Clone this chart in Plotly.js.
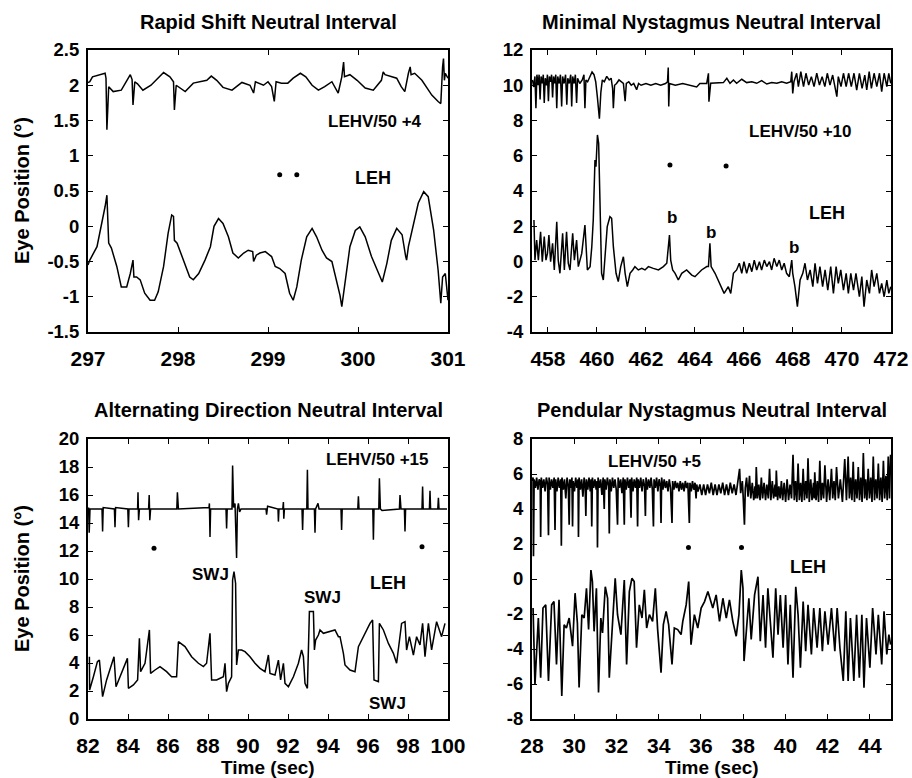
<!DOCTYPE html>
<html>
<head>
<meta charset="utf-8">
<script src="https://cdn.plot.ly/plotly-3.0.1.min.js"></script>
<style>
  html, body { margin: 0; padding: 0; background: #fff; }
  #chart { width: 912px; height: 778px; }
</style>
</head>
<body>
<div id="chart"></div>
<script>
// ---- Rapid Shift Neutral Interval ----
const rsTimeV = [297.00,297.02,297.05,297.12,297.19,297.20,297.21,297.23,297.28,297.37,297.47,297.49,297.50,297.52,297.55,297.61,297.70,297.84,297.91,297.95,297.96,297.98,298.08,298.17,298.24,298.32,298.37,298.43,298.50,298.60,298.71,298.80,298.84,298.86,298.95,299.00,299.04,299.07,299.09,299.15,299.22,299.28,299.36,299.42,299.49,299.56,299.63,299.71,299.78,299.82,299.84,299.85,299.91,299.99,300.08,300.17,300.26,300.28,300.30,300.37,300.43,300.48,300.52,300.56,300.58,300.59,300.63,300.71,300.82,300.89,300.92,300.94,300.95,300.96,300.97,301.00];
const rsLEHV = [2.04,2.05,2.12,2.14,2.17,2.10,1.37,1.98,1.91,1.93,2.15,2.08,1.72,2.05,2.02,1.93,2.00,2.18,2.12,2.05,1.65,2.00,1.91,2.03,2.05,2.07,2.13,2.07,1.97,1.93,2.04,2.00,1.89,2.05,2.00,2.05,1.98,1.77,2.05,2.03,2.03,2.10,2.17,2.12,2.00,1.93,1.98,2.05,1.89,2.12,2.33,2.12,2.15,2.07,1.96,1.93,2.07,2.19,2.15,2.12,2.10,1.98,1.91,2.17,2.26,2.15,2.17,2.07,1.86,1.77,1.74,2.26,2.38,2.07,2.17,2.10];
const rsTimeH = [297.00,297.02,297.10,297.15,297.19,297.21,297.22,297.23,297.26,297.32,297.37,297.43,297.47,297.50,297.51,297.54,297.58,297.63,297.69,297.74,297.78,297.84,297.89,297.93,297.95,297.96,297.99,298.02,298.08,298.13,298.17,298.23,298.30,298.36,298.40,298.45,298.50,298.56,298.61,298.67,298.73,298.78,298.83,298.84,298.87,298.91,298.97,299.04,299.08,299.13,299.19,299.24,299.28,299.32,299.37,299.43,299.49,299.54,299.60,299.65,299.71,299.76,299.80,299.82,299.86,299.91,299.97,300.02,300.08,300.15,300.23,300.27,300.32,300.37,300.43,300.49,300.53,300.54,300.56,300.61,300.67,300.73,300.78,300.84,300.89,300.92,300.94,300.97,300.99,301.00];
const rsLEH = [-0.55,-0.48,-0.29,0.00,0.28,0.44,0.15,-0.24,-0.31,-0.57,-0.86,-0.86,-0.67,-0.48,-0.72,-0.72,-0.76,-0.95,-1.05,-1.05,-0.93,-0.57,-0.10,0.16,0.14,-0.20,-0.24,-0.34,-0.53,-0.72,-0.76,-0.67,-0.48,-0.29,0.00,0.11,0.04,-0.15,-0.38,-0.45,-0.38,-0.34,-0.36,-0.50,-0.41,-0.38,-0.36,-0.43,-0.57,-0.60,-0.67,-0.95,-1.05,-0.86,-0.48,-0.15,-0.03,-0.15,-0.34,-0.45,-0.50,-0.76,-0.98,-1.14,-0.76,-0.29,-0.06,-0.01,-0.15,-0.43,-0.67,-0.79,-0.53,-0.20,-0.03,-0.12,-0.43,-0.48,-0.29,0.00,0.33,0.49,0.42,-0.05,-0.62,-1.09,-0.72,-0.67,-1.00,-1.05];
const rsDotTime = [299.13, 299.32];
const rsDotPos = [0.73, 0.73];

// ---- Minimal Nystagmus Neutral Interval ----
const mnTimeV = [457.37,457.42,457.47,457.51,457.55,457.60,457.64,457.68,457.72,457.77,457.81,457.85,457.89,457.94,457.98,458.02,458.06,458.11,458.15,458.19,458.23,458.28,458.32,458.36,458.40,458.46,458.51,458.56,458.60,458.66,458.72,458.77,458.81,458.87,458.93,458.97,459.01,459.07,459.12,459.17,459.21,459.30,459.40,459.47,459.51,459.55,459.62,459.72,459.80,459.88,459.95,460.02,460.10,460.16,460.22,460.30,460.40,460.50,460.58,460.64,460.67,460.72,460.80,460.90,461.00,461.08,461.15,461.20,461.30,461.40,461.50,461.62,461.70,461.80,462.00,462.20,462.40,462.60,462.80,462.88,462.91,462.93,462.96,463.20,463.50,463.80,464.07,464.20,464.48,464.55,464.57,464.64,464.89,465.16,465.30,465.43,465.57,465.70,465.91,466.11,466.32,466.52,466.72,466.93,467.13,467.34,467.54,467.74,467.91,467.95,467.99,468.04,468.15,468.22,468.32,468.43,468.53,468.64,468.75,468.86,468.97,469.08,469.19,469.30,469.40,469.51,469.62,469.72,469.79,469.85,469.96,470.06,470.17,470.27,470.38,470.49,470.60,470.71,470.82,470.93,471.01,471.11,471.20,471.31,471.42,471.53,471.62,471.72,471.83,471.91,471.99];
const mnLEHV = [10.3,9.9,10.5,8.7,10.6,10.0,10.6,9.2,10.5,10.1,10.6,9.0,10.4,10.0,10.6,9.1,10.5,10.2,10.6,9.3,10.5,10.1,10.6,8.7,10.5,10.1,10.6,8.8,10.5,10.1,10.6,8.9,10.4,10.1,10.6,8.8,10.5,10.1,10.6,9.0,10.4,10.1,10.3,10.6,8.7,10.3,10.2,10.5,10.75,10.6,10.2,9.3,8.1,9.6,10.3,10.2,10.5,10.3,10.4,9.8,8.7,10.0,10.1,10.3,10.2,10.1,9.1,10.1,10.2,10.0,10.1,9.75,10.1,10.0,10.1,10.0,10.1,10.0,10.1,10.2,11.0,8.8,10.1,10.0,10.1,10.0,9.9,10.1,10.1,10.68,9.07,10.11,10.11,10.15,10.39,10.11,10.30,10.11,10.34,10.15,10.20,10.11,10.26,10.07,10.15,10.11,10.20,10.11,10.20,10.77,9.54,10.20,10.68,9.92,10.77,9.92,10.68,10.01,10.49,9.92,10.68,10.01,10.49,9.92,10.68,10.01,10.58,9.92,9.35,10.49,9.92,10.68,9.92,10.68,9.92,10.68,9.73,10.68,9.82,10.58,9.73,10.77,9.82,10.68,9.92,10.68,9.64,10.68,9.92,10.68,10.11];
const mnTimeH = [457.43,457.47,457.54,457.61,457.70,457.77,457.85,457.92,457.98,458.04,458.11,458.19,458.26,458.36,458.42,458.49,458.60,458.67,458.76,458.83,458.90,459.01,459.08,459.17,459.24,459.38,459.51,459.61,459.72,459.79,459.85,459.92,459.96,460.02,460.07,460.13,460.19,460.26,460.33,460.42,460.53,460.60,460.67,460.78,460.87,460.97,461.08,461.15,461.24,461.35,461.46,461.55,461.69,461.83,461.96,462.10,462.30,462.51,462.71,462.85,462.96,463.01,463.09,463.19,463.32,463.46,463.66,463.87,464.00,464.14,464.27,464.48,464.55,464.61,464.66,464.82,465.02,465.19,465.36,465.46,465.57,465.70,465.81,465.91,466.00,466.11,466.22,466.32,466.42,466.52,466.63,466.72,466.83,466.93,467.04,467.13,467.23,467.34,467.44,467.54,467.64,467.74,467.85,467.95,467.99,468.08,468.18,468.29,468.40,468.49,468.59,468.70,468.81,468.90,469.00,469.10,469.21,469.31,469.42,469.54,469.65,469.76,469.85,469.95,470.06,470.17,470.26,470.36,470.47,470.57,470.71,470.81,470.90,471.01,471.12,471.21,471.31,471.42,471.53,471.62,471.72,471.83,471.91,471.99];
const mnLEH = [2.35,0.08,1.22,0.08,1.69,-0.01,1.41,0.08,0.46,1.50,-0.01,1.03,-0.48,2.26,0.08,-0.67,1.60,-0.48,1.69,-0.10,-0.48,1.60,0.08,1.22,-0.29,0.46,2.07,-0.48,-0.29,0.84,2.35,5.76,5.38,7.18,6.70,3.11,-0.67,-1.05,0.27,1.98,2.54,2.45,0.84,-0.67,-1.14,-0.29,0.27,-0.67,-1.43,-0.67,-0.48,-0.29,-0.48,-0.39,-0.48,-0.29,-0.39,-0.48,-0.29,-0.10,1.50,0.08,-0.48,-0.67,-1.05,-0.67,-0.48,-0.77,-0.86,-0.67,-0.48,-0.29,-0.29,1.03,-0.29,-0.67,-1.24,-1.81,-1.43,-1.81,-0.67,-0.48,-0.10,-0.67,-0.01,-0.67,-0.10,-0.58,0.08,-0.48,-0.01,-0.48,0.08,-0.29,-0.01,-0.48,0.18,-0.29,0.08,-0.48,-0.10,-0.67,-0.86,0.08,-0.67,-1.43,-2.56,-1.05,-0.67,-0.10,-1.05,-0.48,-1.43,-0.10,-1.24,-0.29,-1.43,-0.48,-1.62,-0.29,-1.81,-0.29,-1.24,-0.48,-1.62,-0.67,-1.81,-0.67,-1.62,-0.67,-2.00,-0.86,-2.56,-1.05,-1.81,-0.48,-1.43,-0.67,-1.81,-1.24,-2.00,-1.05,-1.81,-1.43];
const mnDotTime = [462.98, 465.27];
const mnDotPos = [5.47, 5.42];

// ---- Alternating Direction Neutral Interval ----
const adTimeV = [82.03,82.06,82.10,82.70,82.73,82.76,83.32,83.35,83.38,83.99,84.02,84.05,84.48,84.50,84.53,84.57,85.03,85.06,85.09,85.13,86.44,86.47,86.52,88.05,88.07,88.10,88.13,88.90,88.93,88.96,89.20,89.23,89.28,89.35,89.43,89.47,89.52,89.58,89.65,90.90,90.93,90.98,91.50,91.52,91.55,91.74,91.77,91.79,91.82,92.70,92.73,92.76,92.94,92.97,93.00,93.32,93.35,93.38,93.50,93.55,94.65,94.68,94.71,95.49,95.52,95.55,96.24,96.27,96.30,96.54,96.57,96.62,96.70,97.57,97.60,97.65,97.82,97.85,97.88,98.70,98.73,98.76,99.07,99.10,99.13,99.49,99.52,99.55,99.95];
const adLEHV = [15.1,13.3,15.0,15.0,13.4,15.1,15.0,13.7,15.1,15.0,13.7,15.0,15.0,16.2,14.2,15.0,15.0,16.0,14.2,15.0,15.0,16.2,15.0,15.1,15.4,13.0,15.0,15.0,13.6,15.0,15.0,18.1,15.1,15.4,11.5,15.0,15.4,14.8,15.0,15.0,14.6,15.2,15.0,14.1,15.0,15.0,15.5,14.3,15.0,15.0,13.5,15.0,15.0,17.8,15.0,15.0,13.3,15.0,15.4,15.0,15.0,13.5,15.0,15.0,15.9,15.0,15.0,12.8,15.0,15.0,17.2,15.0,14.9,15.0,16.0,15.0,15.0,13.4,15.0,15.0,16.6,15.0,15.0,16.3,15.0,15.0,15.8,15.0,15.0];
const adTimeH = [82.07,82.08,82.27,82.47,82.57,82.73,82.93,83.10,83.30,83.40,83.60,83.77,83.97,84.02,84.27,84.48,84.57,84.63,84.85,85.07,85.13,85.35,85.60,85.93,86.18,86.43,86.52,86.85,87.18,87.52,87.77,87.93,88.10,88.18,88.43,88.77,88.85,88.93,89.02,89.18,89.23,89.30,89.38,89.43,89.52,89.68,89.85,90.10,90.35,90.60,90.85,91.02,91.10,91.35,91.52,91.63,91.77,91.85,92.02,92.27,92.52,92.68,92.77,92.85,92.97,93.07,93.27,93.32,93.38,93.52,93.60,93.77,94.10,94.35,94.52,94.60,94.77,94.85,95.10,95.35,95.52,95.77,96.10,96.23,96.30,96.52,96.57,96.77,97.02,97.27,97.43,97.68,97.85,97.93,98.07,98.27,98.43,98.60,98.73,98.85,99.02,99.18,99.43,99.68,99.85];
const adLEH = [4.45,2.07,3.02,4.10,4.21,1.60,2.79,3.50,4.45,2.31,3.02,3.74,4.33,2.19,2.43,2.79,5.76,3.38,3.98,6.36,3.26,3.50,3.74,3.38,3.02,3.02,5.52,5.17,4.45,3.98,3.74,3.98,6.12,2.79,2.79,3.02,3.98,1.95,2.55,3.02,9.93,10.52,9.69,3.86,4.93,4.93,4.81,4.45,3.98,3.62,3.38,4.57,3.26,3.14,4.21,2.79,3.98,2.55,2.31,3.02,3.98,4.93,4.45,2.55,2.19,7.67,7.67,4.93,5.64,6.00,6.36,6.12,6.24,6.36,5.88,5.88,4.69,3.86,3.50,3.38,5.17,5.88,6.83,7.07,2.79,2.67,6.83,6.36,5.40,4.69,3.98,6.83,6.95,4.93,5.88,4.57,5.88,5.29,6.83,4.45,6.83,4.93,6.95,5.88,6.83];
const adDotTime = [85.3, 98.7];
const adDotPos = [12.2, 12.3];

// ---- Pendular Nystagmus Neutral Interval ----
const pnTimeV = [28.00,28.05,28.07,28.10,28.16,28.22,28.28,28.34,28.39,28.41,28.44,28.50,28.56,28.62,28.68,28.74,28.78,28.81,28.87,28.93,28.99,29.05,29.09,29.12,29.18,29.24,29.30,29.36,29.39,29.42,29.48,29.54,29.60,29.66,29.72,29.76,29.79,29.84,29.89,29.92,29.95,30.01,30.07,30.13,30.18,30.20,30.23,30.29,30.35,30.41,30.47,30.52,30.55,30.58,30.64,30.70,30.76,30.80,30.83,30.86,30.92,30.98,31.04,31.08,31.10,31.13,31.19,31.25,31.31,31.37,31.42,31.45,31.51,31.57,31.63,31.66,31.69,31.75,31.81,31.87,31.93,31.99,32.05,32.08,32.14,32.20,32.26,32.32,32.37,32.40,32.46,32.52,32.58,32.64,32.69,32.72,32.78,32.84,32.90,32.96,33.00,33.03,33.09,33.15,33.21,33.27,33.33,33.37,33.40,33.46,33.52,33.58,33.64,33.70,33.75,33.78,33.84,33.90,33.96,34.02,34.08,34.11,34.14,34.20,34.26,34.32,34.38,34.44,34.50,34.56,34.63,34.66,34.72,34.78,34.84,34.90,34.96,35.02,35.08,35.14,35.20,35.26,35.32,35.38,35.45,35.48,35.54,35.60,35.66,35.72,35.77,35.80,35.86,35.95,36.04,36.13,36.22,36.31,36.40,36.49,36.58,36.67,36.76,36.85,36.94,37.03,37.12,37.21,37.30,37.39,37.48,37.57,37.66,37.75,37.83,37.88,37.96,38.00,38.06,38.10,38.16,38.23,38.30,38.36,38.43,38.50,38.56,38.59,38.62,38.68,38.74,38.80,38.86,38.92,38.99,39.06,39.12,39.19,39.25,39.31,39.38,39.44,39.51,39.54,39.57,39.63,39.69,39.75,39.81,39.87,39.94,40.01,40.08,40.15,40.22,40.29,40.36,40.42,40.48,40.54,40.60,40.66,40.72,40.78,40.84,40.90,40.96,41.02,41.07,41.13,41.20,41.26,41.33,41.36,41.39,41.45,41.51,41.57,41.63,41.69,41.75,41.81,41.87,41.95,42.02,42.10,42.18,42.24,42.30,42.36,42.42,42.51,42.60,42.70,42.81,42.89,42.97,43.03,43.09,43.15,43.21,43.27,43.33,43.39,43.45,43.51,43.57,43.63,43.69,43.75,43.80,43.86,43.92,43.98,44.04,44.10,44.16,44.22,44.28,44.34,44.40,44.46,44.52,44.58,44.64,44.70,44.76,44.82,44.87,44.93,44.98];
const pnLEHV = [5.6,5.8,1.3,5.7,5.2,5.8,5.1,5.7,5.5,2.4,5.8,5.2,5.7,5.0,5.8,5.4,2.5,5.8,5.1,5.7,5.2,5.8,2.8,5.7,5.0,5.8,5.2,5.7,1.9,5.8,5.1,5.7,4.6,5.8,5.3,3.1,5.7,5.2,5.8,3.0,5.6,5.0,5.8,5.2,5.7,2.4,5.8,5.1,5.7,4.7,5.8,5.2,3.6,5.7,5.1,5.8,5.0,5.7,3.0,5.8,5.2,5.7,5.1,5.6,1.8,5.8,5.2,5.7,4.8,5.8,4.0,5.7,5.1,5.8,5.3,2.6,5.7,5.0,5.8,5.2,5.7,5.1,3.1,5.8,5.2,5.7,4.9,5.8,3.1,5.7,5.1,5.8,5.2,5.7,3.5,5.8,5.0,5.7,5.2,5.8,3.0,5.7,5.2,5.8,5.0,5.7,5.3,3.6,5.8,5.1,5.7,5.2,5.8,5.1,3.0,5.7,5.2,5.8,5.0,5.7,5.3,3.2,5.8,5.1,5.7,5.2,5.6,5.0,5.7,5.2,3.2,5.6,5.1,5.6,5.2,5.5,5.0,5.6,5.1,5.5,5.0,5.6,5.2,5.5,3.2,5.5,5.0,5.6,5.1,5.5,4.6,5.4,5.0,5.4,4.8,5.4,4.8,5.4,4.9,5.5,4.8,5.4,4.8,5.4,4.9,5.5,4.8,5.4,4.8,5.5,4.9,5.4,4.8,5.5,6.3,4.9,5.6,4.7,3.1,5.2,5.8,4.7,5.9,4.6,5.5,4.5,5.3,4.6,6.4,4.6,5.4,4.5,5.8,4.6,5.5,4.5,5.4,4.6,6.3,4.5,5.6,4.6,5.4,4.7,6.2,4.5,5.3,4.6,5.6,4.5,5.5,4.4,5.7,4.5,5.4,4.6,7.1,4.5,5.6,4.4,6.6,4.5,5.5,4.4,6.3,4.5,5.6,4.6,6.9,4.4,5.7,4.5,5.5,4.6,6.1,4.5,5.6,4.4,6.75,4.5,5.5,4.6,6.5,4.4,5.7,4.5,6.3,4.6,5.6,4.5,6.4,4.6,5.7,4.4,6.85,4.5,7.0,4.6,5.8,4.5,6.7,4.4,5.7,4.6,6.4,4.5,5.8,4.4,7.2,4.6,5.7,4.5,6.3,4.6,5.8,4.4,7.0,4.5,5.7,4.6,6.6,4.5,5.8,4.4,6.75,4.6,5.9,4.5,7.0,4.6,7.1];
const pnTimeH = [28.05,28.14,28.30,28.41,28.52,28.65,28.78,28.93,29.04,29.16,29.28,29.41,29.52,29.63,29.76,29.92,30.04,30.15,30.23,30.36,30.47,30.58,30.68,30.79,30.86,30.94,31.05,31.15,31.26,31.34,31.47,31.58,31.66,31.78,31.94,32.05,32.21,32.37,32.48,32.61,32.73,32.84,32.95,33.08,33.21,33.32,33.43,33.56,33.71,33.84,33.95,34.11,34.22,34.35,34.47,34.63,34.74,34.90,35.06,35.14,35.30,35.42,35.53,35.69,35.85,36.01,36.17,36.33,36.56,36.72,36.88,37.04,37.20,37.35,37.51,37.67,37.80,37.91,37.99,38.04,38.15,38.27,38.38,38.54,38.70,38.81,38.94,39.06,39.17,39.29,39.41,39.54,39.65,39.76,39.89,40.01,40.12,40.23,40.36,40.49,40.60,40.71,40.84,40.96,41.07,41.23,41.34,41.50,41.63,41.75,41.87,42.02,42.18,42.34,42.45,42.58,42.74,42.86,42.97,43.08,43.24,43.37,43.50,43.62,43.72,43.84,44.00,44.13,44.29,44.40,44.56,44.67,44.80,44.90,44.98];
const pnLEH = [-1.66,-6.02,-2.23,-5.64,-1.66,-1.48,-5.83,-1.48,-1.29,-4.88,-1.19,-6.68,-2.61,-2.80,-2.23,-3.84,-0.81,-2.52,-6.20,-2.04,-2.23,-0.53,-2.89,0.51,-0.15,-2.99,-0.53,-6.49,-2.23,-3.08,-0.44,-1.10,-5.64,-3.18,0.04,-2.04,-3.18,-0.06,-4.88,-0.72,0.04,-0.15,-3.93,-1.48,-2.23,-0.62,-2.80,-2.04,-2.42,-0.53,-2.89,-5.35,-2.61,-1.85,-2.61,-4.88,-2.80,-2.89,-3.18,-2.42,-1.48,-0.15,-3.75,-2.04,-2.80,-1.66,-1.29,-0.72,-1.66,-0.91,-2.42,-1.10,-2.23,-1.19,-2.42,-3.27,-2.04,0.51,-0.53,-4.69,-3.18,-1.10,-3.46,-0.91,0.13,-3.56,-0.91,-3.93,-0.53,-2.42,-4.50,-0.53,-3.18,-0.91,-3.93,-0.91,-4.88,-1.48,-5.64,-0.44,-2.04,-5.07,-1.29,-4.12,-1.48,-4.31,-1.66,-3.93,-1.66,-4.12,-1.85,-3.75,-1.66,-4.12,-1.66,-3.93,-5.83,-1.85,-5.83,-2.23,-5.83,-2.04,-5.64,-2.04,-6.21,-2.23,-5.07,-1.66,-4.31,-2.04,-4.88,-1.85,-4.31,-3.18,-3.75];
const pnDotTime = [35.41, 37.92];
const pnDotPos = [1.8, 1.8];

// ---- Axis tick labels ----
const rsXTicks = [297, 298, 299, 300, 301];
const rsYTicks = [2.5, 2, 1.5, 1, 0.5, 0, -0.5, -1, -1.5];
const rsYText = ['2.5', '2', '1.5', '1', '0.5', '0', '-0.5', '-1', '-1.5'];
const mnXTicks = [458, 460, 462, 464, 466, 468, 470, 472];
const mnYTicks = [12, 10, 8, 6, 4, 2, 0, -2, -4];
const mnYText = ['12', '10', '8', '6', '4', '2', '0', '-2', '-4'];
const adXTicks = [82, 84, 86, 88, 90, 92, 94, 96, 98, 100];
const adYTicks = [20, 18, 16, 14, 12, 10, 8, 6, 4, 2, 0];
const pnXTicks = [28, 30, 32, 34, 36, 38, 40, 42, 44];
const pnYTicks = [8, 6, 4, 2, 0, -2, -4, -6, -8];
const pnYText = ['8', '6', '4', '2', '0', '-2', '-4', '-6', '-8'];

const FONT = 'Liberation Sans, Arial, Helvetica, sans-serif';
const INK = '#000';
const b = s => '<b>' + s + '</b>';

function lineTrace(x, y, xa, ya, w) {
  return { x: x, y: y, xaxis: xa, yaxis: ya, type: 'scatter', mode: 'lines',
           line: { color: INK, width: w || 1.5 }, hoverinfo: 'skip', showlegend: false };
}
function dotTrace(x, y, xa, ya) {
  return { x: x, y: y, xaxis: xa, yaxis: ya, type: 'scatter', mode: 'markers',
           marker: { color: INK, size: 5 }, hoverinfo: 'skip', showlegend: false };
}

const traces = [
  lineTrace(rsTimeV, rsLEHV, 'x', 'y'),
  lineTrace(rsTimeH, rsLEH, 'x', 'y'),
  dotTrace(rsDotTime, rsDotPos, 'x', 'y'),
  lineTrace(mnTimeV, mnLEHV, 'x2', 'y2'),
  lineTrace(mnTimeH, mnLEH, 'x2', 'y2'),
  dotTrace(mnDotTime, mnDotPos, 'x2', 'y2'),
  lineTrace(adTimeV, adLEHV, 'x3', 'y3'),
  lineTrace(adTimeH, adLEH, 'x3', 'y3'),
  dotTrace(adDotTime, adDotPos, 'x3', 'y3'),
  lineTrace(pnTimeV, pnLEHV, 'x4', 'y4', 1.7),
  lineTrace(pnTimeH, pnLEH, 'x4', 'y4', 1.7),
  dotTrace(pnDotTime, pnDotPos, 'x4', 'y4')
];

const LEFT = [88 / 912, 448 / 912];
const RIGHT = [532 / 912, 891 / 912];
const TOP = [1 - 332 / 778, 1 - 50 / 778];
const BOTTOM = [1 - 719 / 778, 1 - 439 / 778];

function xAxis(domain, range, vals, anchor) {
  return {
    domain: domain, range: range, anchor: anchor,
    tickmode: 'array', tickvals: vals, ticktext: vals.map(v => b(String(v))),
    ticks: 'inside', ticklen: 5, tickwidth: 1, tickcolor: INK,
    showline: true, linecolor: INK, linewidth: 2, mirror: 'ticks',
    showgrid: false, zeroline: false, ticklabelstandoff: 7,
    tickfont: { family: FONT, size: 21, color: INK }
  };
}
function yAxis(domain, range, vals, text, anchor) {
  return {
    domain: domain, range: range, anchor: anchor,
    tickmode: 'array', tickvals: vals, ticktext: text.map(b),
    ticks: 'inside', ticklen: 5, tickwidth: 1, tickcolor: INK,
    showline: true, linecolor: INK, linewidth: 2, mirror: 'ticks',
    showgrid: false, zeroline: false, ticklabelstandoff: 3,
    tickfont: { family: FONT, size: 18.5, color: INK }
  };
}

function note(text, x, y, xr, yr, size) {
  return { text: b(text), x: x, y: y, xref: xr, yref: yr, showarrow: false,
           xanchor: 'center', yanchor: 'middle',
           font: { family: FONT, size: size || 17, color: INK } };
}
function paperNote(text, x, y, size, angle) {
  return { text: b(text), x: x, y: y, xref: 'paper', yref: 'paper', showarrow: false,
           xanchor: 'center', yanchor: 'middle', textangle: angle || 0,
           font: { family: FONT, size: size || 20, color: INK } };
}

const midL = (LEFT[0] + LEFT[1]) / 2;
const midR = (RIGHT[0] + RIGHT[1]) / 2;

const layout = {
  width: 912, height: 778,
  margin: { l: 0, r: 0, t: 0, b: 0 },
  paper_bgcolor: '#fff', plot_bgcolor: '#fff',
  showlegend: false,
  xaxis: xAxis(LEFT, [297, 301], rsXTicks, 'y'),
  yaxis: yAxis(TOP, [-1.5, 2.5], rsYTicks, rsYText, 'x'),
  xaxis2: xAxis(RIGHT, [457.35, 472], mnXTicks, 'y2'),
  yaxis2: yAxis(TOP, [-4, 12], mnYTicks, mnYText, 'x2'),
  xaxis3: xAxis(LEFT, [82, 100], adXTicks, 'y3'),
  yaxis3: yAxis(BOTTOM, [0, 20], adYTicks, adYTicks.map(String), 'x3'),
  xaxis4: xAxis(RIGHT, [28, 45], pnXTicks, 'y4'),
  yaxis4: yAxis(BOTTOM, [-8, 8], pnYTicks, pnYText, 'x4'),
  annotations: [
    paperNote('Rapid Shift Neutral Interval', midL, 1 - 22 / 778),
    paperNote('Minimal Nystagmus Neutral Interval', midR, 1 - 22 / 778),
    paperNote('Alternating Direction Neutral Interval', midL, 1 - 410 / 778),
    paperNote('Pendular Nystagmus Neutral Interval', midR, 1 - 410 / 778),
    paperNote('Eye Position (\u00b0)', 22 / 912, (TOP[0] + TOP[1]) / 2, 20, -90),
    paperNote('Eye Position (\u00b0)', 22 / 912, (BOTTOM[0] + BOTTOM[1]) / 2, 20, -90),
    paperNote('Time (sec)', midL, 1 - 767 / 778, 19),
    paperNote('Time (sec)', midR, 1 - 767 / 778, 19),

    note('LEHV/50 +4', 300.19, 1.48, 'x', 'y'),
    note('LEH', 300.17, 0.68, 'x', 'y', 18),

    note('LEHV/50 +10', 468.29, 7.35, 'x2', 'y2'),
    note('LEH', 469.39, 2.75, 'x2', 'y2', 18),
    note('b', 463.06, 2.47, 'x2', 'y2'),
    note('b', 464.66, 1.62, 'x2', 'y2'),
    note('b', 468.04, 0.82, 'x2', 'y2'),

    note('LEHV/50 +15', 96.45, 18.57, 'x3', 'y3'),
    note('LEH', 97.0, 9.71, 'x3', 'y3', 18),
    note('SWJ', 88.1, 10.29, 'x3', 'y3'),
    note('SWJ', 93.7, 8.71, 'x3', 'y3'),
    note('SWJ', 96.95, 1.14, 'x3', 'y3'),

    note('LEHV/50 +5', 33.79, 6.69, 'x4', 'y4'),
    note('LEH', 41.06, 0.69, 'x4', 'y4', 18)
  ]
};

Plotly.newPlot('chart', traces, layout, { staticPlot: true, displayModeBar: false });
</script>
</body>
</html>
